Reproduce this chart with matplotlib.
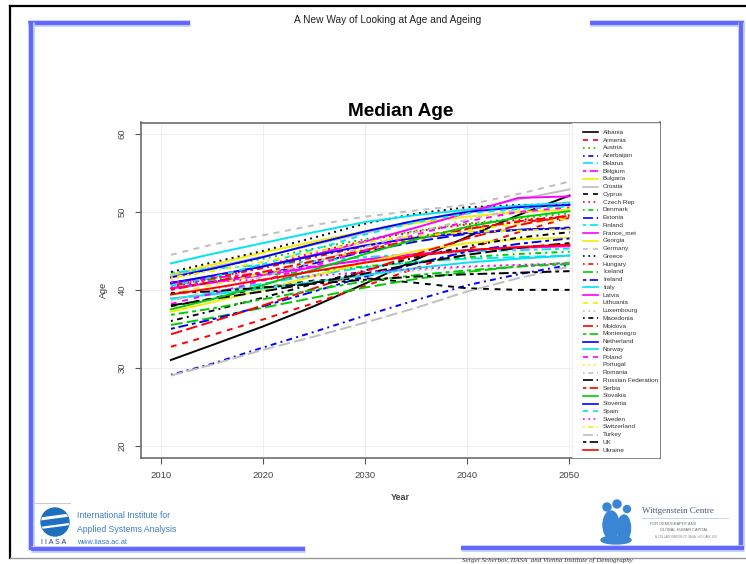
import matplotlib.pyplot as plt
from matplotlib.patches import Circle, Ellipse, Rectangle

plt.rcParams['font.family'] = ['Liberation Sans', 'DejaVu Sans']

# Projected median age by country
years = [2011, 2015, 2020, 2025, 2030, 2035, 2040, 2045, 2050]

albania = [31.0, 32.9, 35.3, 37.9, 40.8, 43.9, 46.8, 49.6, 52.1]
armenia = [32.7, 34.2, 36.2, 38.3, 40.5, 42.8, 45.2, 47.4, 49.3]
austria = [41.8, 42.8, 44.0, 45.3, 46.5, 47.6, 48.5, 49.2, 49.8]
azerbaijan = [29.1, 30.5, 32.6, 34.6, 36.7, 38.7, 40.6, 42.0, 43.2]
belarus = [38.8, 39.6, 40.8, 41.9, 42.9, 43.6, 44.0, 44.2, 44.4]
belgium = [41.0, 41.5, 42.2, 43.0, 43.8, 44.5, 45.0, 45.4, 45.7]
bulgaria = [42.0, 43.2, 44.8, 46.2, 47.5, 48.6, 49.4, 50.0, 50.3]
croatia = [41.8, 42.9, 44.3, 45.8, 47.3, 48.8, 50.2, 51.6, 52.9]
cyprus = [37.9, 38.9, 40.3, 41.2, 41.5, 40.9, 40.2, 40.0, 40.0]
czech_rep = [40.3, 41.4, 43.0, 44.8, 46.3, 47.5, 48.4, 49.0, 49.4]
denmark = [40.8, 41.3, 41.9, 42.4, 43.0, 43.6, 44.2, 44.6, 44.9]
estonia = [40.2, 41.0, 42.0, 43.4, 44.9, 46.2, 47.2, 47.7, 48.0]
finland = [42.2, 42.7, 43.2, 43.7, 44.2, 44.6, 44.9, 45.1, 45.3]
france_met = [40.2, 40.9, 41.9, 42.9, 43.9, 44.6, 45.1, 45.4, 45.6]
georgia = [37.2, 38.4, 40.0, 41.8, 43.5, 45.0, 46.0, 46.5, 46.7]
germany = [44.5, 45.8, 47.0, 48.3, 49.4, 50.2, 50.9, 52.3, 53.9]
greece = [42.3, 43.5, 45.0, 46.7, 48.5, 49.8, 50.6, 50.9, 51.0]
hungary = [40.5, 41.5, 42.8, 44.2, 45.6, 46.8, 47.9, 48.7, 49.2]
iceland = [35.5, 36.4, 37.7, 39.0, 40.3, 41.4, 42.3, 43.0, 43.5]
ireland = [35.0, 36.2, 37.9, 39.8, 41.7, 43.4, 44.9, 45.9, 46.6]
italy = [43.4, 44.6, 46.0, 47.4, 48.7, 49.6, 50.3, 50.8, 51.2]
latvia = [40.8, 41.8, 43.0, 44.5, 46.2, 48.0, 49.9, 51.8, 52.0]
lithuania = [39.5, 40.6, 42.1, 43.6, 45.1, 46.5, 47.6, 48.5, 49.1]
luxembourg = [38.8, 39.4, 40.3, 41.1, 41.9, 42.5, 42.9, 43.2, 43.4]
macedonia = [36.0, 37.3, 39.0, 40.8, 42.5, 44.2, 45.6, 46.7, 47.4]
moldova = [34.3, 35.9, 38.0, 40.2, 42.4, 44.6, 46.6, 48.3, 49.6]
montenegro = [36.8, 37.6, 38.8, 40.0, 41.1, 41.9, 42.5, 43.0, 43.3]
netherland = [40.9, 41.8, 43.0, 44.4, 45.7, 46.7, 47.3, 47.7, 47.9]
norway = [38.9, 39.4, 40.2, 41.0, 41.9, 42.8, 43.5, 44.0, 44.4]
poland = [38.2, 39.5, 41.2, 43.1, 45.1, 47.1, 48.8, 50.0, 50.6]
portugal = [41.3, 42.6, 44.3, 46.0, 47.6, 48.9, 49.9, 50.5, 50.8]
romania = [38.6, 39.9, 41.7, 43.6, 45.5, 47.4, 49.0, 50.3, 51.3]
russian_federation = [38.0, 38.8, 39.8, 40.9, 42.1, 43.4, 44.5, 45.4, 46.0]
serbia = [40.0, 41.0, 42.3, 43.7, 45.1, 46.5, 47.8, 48.8, 49.5]
slovakia = [37.5, 38.8, 40.6, 42.6, 44.6, 46.5, 48.1, 49.3, 50.1]
slovenia = [41.6, 42.7, 44.2, 45.9, 47.5, 48.9, 50.0, 50.6, 50.9]
spain = [40.5, 41.6, 43.3, 45.2, 47.1, 48.7, 49.8, 50.4, 50.7]
sweden = [41.0, 41.1, 41.3, 41.8, 42.3, 42.7, 43.0, 43.2, 43.4]
switzerland = [41.6, 42.4, 43.6, 44.9, 46.1, 46.9, 47.4, 47.6, 47.8]
turkey = [29.0, 30.4, 32.3, 34.0, 35.8, 37.7, 39.8, 41.5, 43.0]
uk = [39.6, 39.8, 40.3, 40.8, 41.3, 41.7, 42.0, 42.2, 42.4]
ukraine = [39.4, 40.2, 41.3, 42.4, 43.5, 44.4, 45.1, 45.5, 45.8]

countries = ["Albania", "Armenia", "Austria", "Azerbaijan", "Belarus", "Belgium",
             "Bulgaria", "Croatia", "Cyprus", "Czech Rep", "Denmark", "Estonia",
             "Finland", "France_met", "Georgia", "Germany", "Greece", "Hungary",
             "Iceland", "Ireland", "Italy", "Latvia", "Lithuania", "Luxembourg",
             "Macedonia", "Moldova", "Montenegro", "Netherland", "Norway", "Poland",
             "Portugal", "Romania", "Russian Federation", "Serbia", "Slovakia",
             "Slovenia", "Spain", "Sweden", "Switzerland", "Turkey", "UK", "Ukraine"]
series = [albania, armenia, austria, azerbaijan, belarus, belgium, bulgaria, croatia,
          cyprus, czech_rep, denmark, estonia, finland, france_met, georgia, germany,
          greece, hungary, iceland, ireland, italy, latvia, lithuania, luxembourg,
          macedonia, moldova, montenegro, netherland, norway, poland, portugal,
          romania, russian_federation, serbia, slovakia, slovenia, spain, sweden,
          switzerland, turkey, uk, ukraine]

x_ticks = [2010, 2020, 2030, 2040, 2050]
y_ticks = [20, 30, 40, 50, 60]

# R-like palette and line types, recycled over the countries
palette = ["#000000", "#ff0000", "#00cd00", "#0000ff", "#00e5ee", "#ff00ff", "#f2ee00", "#bebebe"]
line_types = ["-", (0, (3, 3)), (0, (1, 2.2)), (0, (1, 2.2, 3, 2.2)),
              (0, (6, 2.2)), (0, (2, 2, 5, 2)), "-"]

fig = plt.figure(figsize=(7.46, 5.64), dpi=100)

# slide background in pixel coordinates
bg = fig.add_axes([0, 0, 1, 1], zorder=0)
bg.set_xlim(0, 746)
bg.set_ylim(564, 0)
bg.axis("off")

bg.plot([10, 10], [6, 558], color="black", lw=1.6)
bg.plot([10, 746], [6, 6], color="black", lw=1.6)
bg.plot([10, 746], [558, 558], color="#9a9a9a", lw=1.0)

blue_segments = [([28, 190], [23, 23]), ([31, 31], [22, 550]),
                 ([590, 744], [23, 23]), ([741, 741], [22, 546]),
                 ([31, 305], [549, 549]), ([461, 744], [548, 548])]
for xs, ys in blue_segments:
    bg.plot(xs, ys, color="#b7cbfb", lw=4.8, solid_capstyle="butt")
    bg.plot(xs, ys, color="#6464ff", lw=2.8, solid_capstyle="butt")

bg.text(388, 20, "A New Way of Looking at Age and Ageing", fontsize=7.3,
        ha="center", va="center", color="#222222")
bg.text(401, 112, "Median Age", fontsize=13.7, fontweight="bold",
        ha="center", va="center", color="black")
bg.text(103, 290, "Age", fontsize=6.5, rotation=90, ha="center", va="center", color="#333333")
bg.text(400, 497, "Year", fontsize=6.5, fontweight="bold", ha="center", va="center", color="#444444")

# IIASA logo block
bg.plot([33, 70], [503, 503], color="#cccccc", lw=0.8)
globe = Circle((55, 522), 14, color="#1f6fbf")
bg.add_patch(globe)
for yy, w in [(517, 2.2), (526, 1.6)]:
    ln, = bg.plot([40, 70], [yy + 2, yy - 2], color="white", lw=w)
    ln.set_clip_path(globe)
bg.text(54, 543, "I I A S A", fontsize=5.2, ha="center", va="center", color="#1f3f8f")
bg.text(77, 515, "International Institute for", fontsize=6.2, ha="left", va="center", color="#3d7cc9")
bg.text(77, 529, "Applied Systems Analysis", fontsize=6.2, ha="left", va="center", color="#3d7cc9")
bg.text(77, 542, "www.iiasa.ac.at", fontsize=5.2, ha="left", va="center", color="#3d7cc9")

# Wittgenstein Centre logo block
wc_blue = "#3a86d4"
for cx, cy, w, h in [(607, 507, 8, 8), (617, 504, 8, 8), (627, 509, 7, 7),
                     (611, 525, 16, 28), (624, 528, 13, 26), (616, 540, 30, 8)]:
    bg.add_patch(Ellipse((cx, cy), w, h, color=wc_blue))
bg.text(642, 511, "Wittgenstein Centre", fontsize=6.5, family="Liberation Serif",
        ha="left", va="center", color="#4a5a78")
bg.plot([642, 728], [518, 518], color="#b8cfe8", lw=0.6)
bg.text(650, 524, "FOR DEMOGRAPHY AND", fontsize=2.8, ha="left", va="center", color="#666666")
bg.text(660, 530, "GLOBAL HUMAN CAPITAL", fontsize=2.8, ha="left", va="center", color="#666666")
bg.text(655, 537, "A COLLABORATION OF IIASA, VID/\u00d6AW, WU", fontsize=2.2,
        ha="left", va="center", color="#888888")
bg.text(462, 560, "Sergei Scherbov, IIASA  and Vienna Institute of Demography", fontsize=5,
        family="Liberation Serif", style="italic", ha="left", va="center", color="#333333")

# main plot panel
ax = fig.add_axes([141 / 746, 1 - 458 / 564, 519 / 746, 335.5 / 564], zorder=1)
for i, (name, vals) in enumerate(zip(countries, series)):
    ax.plot(years, vals, color=palette[i % 8], linestyle=line_types[i % 7], lw=1.4)

ax.set_xlim(2008.07, 2058.86)
ax.set_ylim(18.42, 61.48)
ax.set_xticks(x_ticks)
ax.set_yticks(y_ticks)
ax.grid(True, color="#ececec", lw=0.6)
ax.set_axisbelow(True)
ax.tick_params(direction="out", length=4.3, width=0.8, color="#555555",
               labelsize=6.8, labelcolor="#444444", top=False, right=False)
ax.tick_params(axis="x", pad=5.2)
ax.tick_params(axis="y", pad=6, labelrotation=90)
for lbl in ax.get_yticklabels():
    lbl.set_va("center")
for sp in ax.spines.values():
    sp.set_color("#606060")
    sp.set_linewidth(1.1)

# legend panel on the right side of the plot
ax.add_patch(Rectangle((0.830, 0.0), 0.17, 1.0, transform=ax.transAxes,
                       facecolor="white", edgecolor="#e8e8e8", lw=0.6, zorder=3))
y0 = 0.9708
step = 7.75 / 335.5
for i, name in enumerate(countries):
    yy = y0 - i * step
    ax.plot([0.8516, 0.8805], [yy, yy], transform=ax.transAxes, color=palette[i % 8],
            linestyle=line_types[i % 7], lw=1.2, zorder=4, clip_on=False)
    ax.text(0.890, yy, name, transform=ax.transAxes, fontsize=4.6, ha="left",
            va="center", color="#333333", zorder=4)

fig.savefig("out.png", dpi=100)
